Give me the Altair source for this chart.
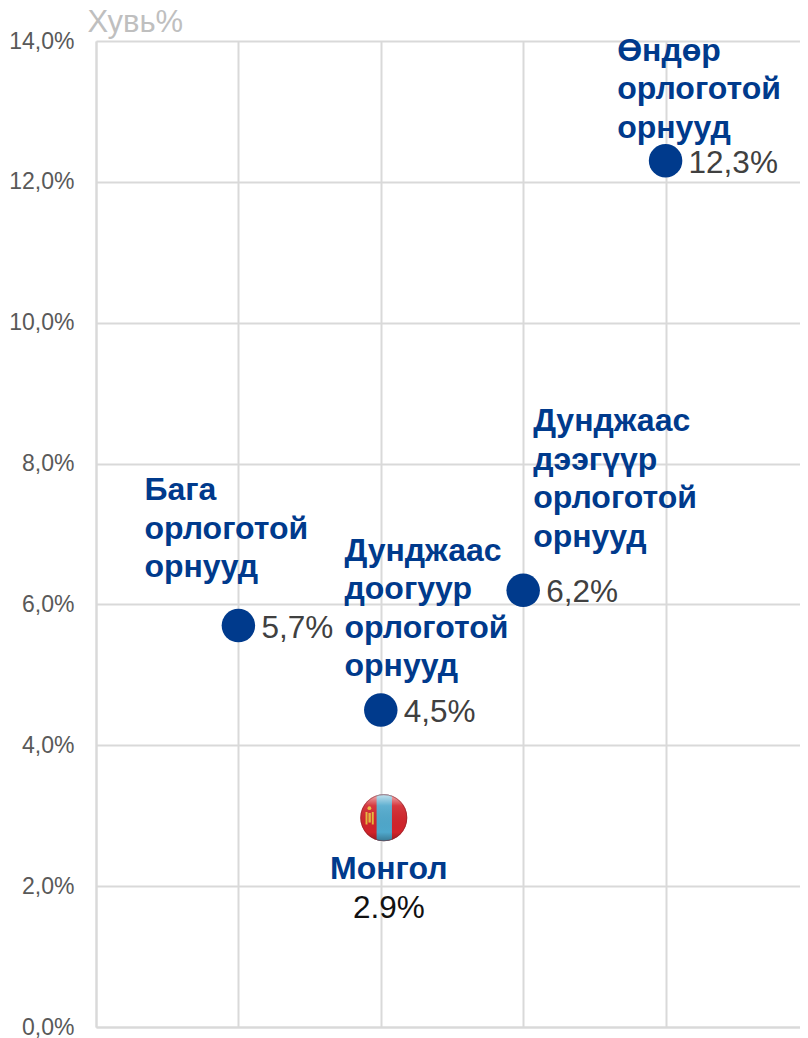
import altair as alt
import pandas as pd
import base64

FONT = "Liberation Sans"
BLUE = "#003A8C"

positions = [1, 2, 3, 4]
values = [5.7, 4.5, 6.2, 12.3]
value_labels = ["5,7%", "4,5%", "6,2%", "12,3%"]
group_names = [
    "Бага\nорлоготой\nорнууд",
    "Дунджаас\nдоогуур\nорлоготой\nорнууд",
    "Дунджаас\nдээгүүр\nорлоготой\nорнууд",
    "Өндөр\nорлоготой\nорнууд",
]
name_x = [0.34, 1.745, 3.07, 3.66]
name_y = [7.48, 6.62, 8.46, 13.72]
y_ticks = [0, 2, 4, 6, 8, 10, 12, 14]
x_ticks = [0, 1, 2, 3, 4]
x_max = 4.944

mongolia_x = [2]
mongolia_y = [2.9]
mongolia_name = ["Монгол"]
mongolia_label = ["2.9%"]
mongolia_name_y = [2.10]
mongolia_label_y = [1.55]

flag_svg = """<svg xmlns='http://www.w3.org/2000/svg' width='100' height='100' viewBox='0 0 100 100'>
<defs><clipPath id='c'><circle cx='50' cy='50' r='49'/></clipPath>
<linearGradient id='g' x1='0' y1='0' x2='0' y2='1'><stop offset='0' stop-color='#fff' stop-opacity='.7'/><stop offset='.25' stop-color='#fff' stop-opacity='.1'/><stop offset='.8' stop-color='#000' stop-opacity='0'/><stop offset='1' stop-color='#000' stop-opacity='.3'/></linearGradient></defs>
<g clip-path='url(#c)'><rect width='100' height='100' fill='#D2232A'/><rect x='35' width='32' height='100' fill='#4FA8CC'/>
<rect x='12' y='38' width='4' height='26' fill='#E8B93A'/><rect x='25' y='38' width='4' height='26' fill='#E8B93A'/><rect x='18' y='40' width='5' height='20' fill='#E8B93A'/><circle cx='20' cy='30' r='4' fill='#E8B93A'/>
<rect width='100' height='100' fill='url(#g)'/></g>
<circle cx='50' cy='50' r='48' fill='none' stroke='#7a2a30' stroke-opacity='.5' stroke-width='2'/></svg>"""
flag_url = "data:image/svg+xml;base64," + base64.b64encode(flag_svg.encode()).decode()

df = pd.DataFrame({"x": positions, "y": values, "label": value_labels,
                   "name": group_names, "nx": name_x, "ny": name_y})
mn = pd.DataFrame({"x": mongolia_x, "y": mongolia_y, "name": mongolia_name,
                   "label": mongolia_label, "ny": mongolia_name_y,
                   "ly": mongolia_label_y, "url": [flag_url]})

xs = alt.Scale(domain=[0, x_max], nice=False, zero=False)
ys = alt.Scale(domain=[0, 14], nice=False)

x_axis = alt.Axis(values=x_ticks, grid=True, gridColor="#D9D9D9", gridWidth=2, labels=False,
                  ticks=False, title=None, domain=True, domainColor="#D9D9D9", domainWidth=2)
y_axis = alt.Axis(values=y_ticks, grid=True, gridColor="#D9D9D9", gridWidth=2, ticks=False,
                  domain=True, domainColor="#D9D9D9", domainWidth=2,
                  labelExpr="replace(format(datum.value,'.1f'),'.',',')+'%'",
                  labelFont=FONT, labelFontSize=23, labelColor="#595959", labelPadding=22,
                  title="Хувь%", titleFont=FONT, titleFontSize=31, titleFontWeight="normal",
                  titleColor="#BFBFBF", titleAngle=0, titleAlign="left", titleBaseline="alphabetic",
                  titleX=-9, titleY=-10)

points = alt.Chart(df).mark_circle(size=1122, opacity=1, color=BLUE).encode(
    x=alt.X("x:Q", scale=xs, axis=x_axis),
    y=alt.Y("y:Q", scale=ys, axis=y_axis),
)
value_text = alt.Chart(df).mark_text(align="left", baseline="alphabetic", dx=23, dy=12,
                                     font=FONT, fontSize=31.5, color="#404040").encode(
    x=alt.X("x:Q", scale=xs), y=alt.Y("y:Q", scale=ys), text="label:N")
name_text = alt.Chart(df).mark_text(align="left", baseline="alphabetic", font=FONT, fontSize=32,
                                    fontWeight="bold", color=BLUE, lineBreak="\n", lineHeight=38.5).encode(
    x=alt.X("nx:Q", scale=xs), y=alt.Y("ny:Q", scale=ys), text="name:N")
flag = alt.Chart(mn).mark_image(width=48, height=48, xOffset=3, yOffset=-5).encode(
    x=alt.X("x:Q", scale=xs), y=alt.Y("y:Q", scale=ys), url="url:N")
mn_name = alt.Chart(mn).mark_text(align="center", baseline="alphabetic", dx=8, font=FONT, fontSize=32,
                                  fontWeight="bold", color=BLUE).encode(
    x=alt.X("x:Q", scale=xs), y=alt.Y("ny:Q", scale=ys), text="name:N")
mn_label = alt.Chart(mn).mark_text(align="center", baseline="alphabetic", dx=8, font=FONT, fontSize=31.5,
                                   color="#111111").encode(
    x=alt.X("x:Q", scale=xs), y=alt.Y("ly:Q", scale=ys), text="label:N")

chart = alt.layer(points, value_text, name_text, flag, mn_name, mn_label).properties(
    width=704, height=986,
    padding={"left": 88, "top": 33, "right": 0, "bottom": 11},
    autosize=alt.AutoSizeParams(type="none"),
).configure_view(stroke=None)

chart.save("out.html", embed_options={"renderer": "svg", "actions": False})
